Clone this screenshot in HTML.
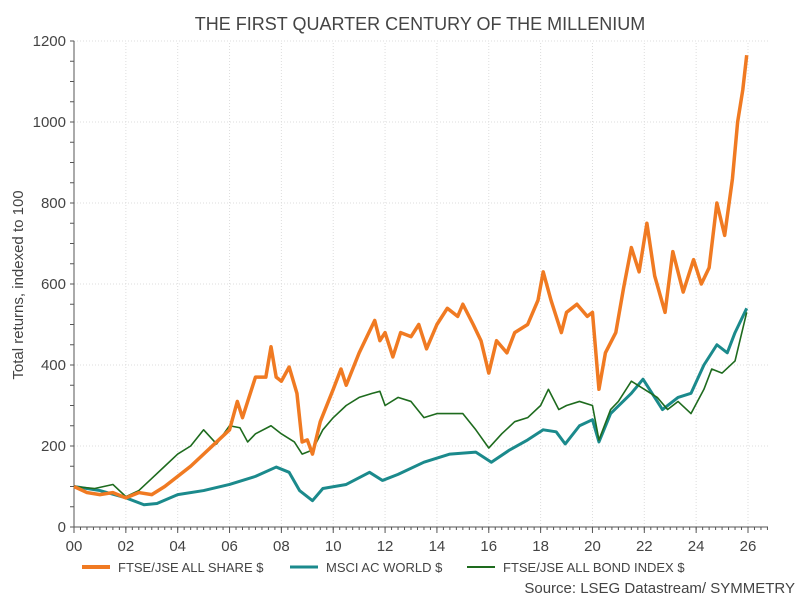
<!DOCTYPE html>
<html><head><meta charset="utf-8"><style>
body{margin:0;background:#fff;font-family:"Liberation Sans",sans-serif}
svg text{font-family:"Liberation Sans",sans-serif;fill:#444}
</style></head><body>
<svg width="800" height="600" id="chart">
<text x="420" y="30" text-anchor="middle" font-size="18">THE FIRST QUARTER CENTURY OF THE MILLENIUM</text>
<text transform="translate(23,285) rotate(-90)" text-anchor="middle" font-size="15">Total returns, indexed to 100</text>
<g id="grid"></g><g id="axes"></g><g id="series"></g>
<g>
<line x1="82" y1="567" x2="110" y2="567" stroke="#f07a22" stroke-width="4"/>
<text x="118" y="572" font-size="13">FTSE/JSE ALL SHARE $</text>
<line x1="290" y1="567" x2="318" y2="567" stroke="#1b8a8c" stroke-width="3"/>
<text x="326" y="572" font-size="13">MSCI AC WORLD $</text>
<line x1="467" y1="567" x2="495" y2="567" stroke="#1e6b1e" stroke-width="2"/>
<text x="503" y="572" font-size="13">FTSE/JSE ALL BOND INDEX $</text>
</g>
<text x="795" y="593" text-anchor="end" font-size="15">Source: LSEG Datastream/ SYMMETRY</text>
</svg>
<script>
const xTicks=[0,2,4,6,8,10,12,14,16,18,20,22,24,26];
const yTicks=[0,200,400,600,800,1000,1200];
const shareT=[2000,2000.5,2001,2001.5,2002,2002.5,2003,2003.5,2004,2004.5,2005,2005.5,2006,2006.3,2006.5,2007,2007.4,2007.6,2007.8,2008,2008.3,2008.6,2008.8,2009,2009.2,2009.5,2010,2010.3,2010.5,2011,2011.3,2011.6,2011.8,2012,2012.3,2012.6,2013,2013.3,2013.6,2014,2014.4,2014.8,2015,2015.4,2015.7,2016,2016.3,2016.7,2017,2017.5,2017.9,2018.1,2018.4,2018.8,2019,2019.4,2019.8,2020,2020.25,2020.5,2020.9,2021.2,2021.5,2021.8,2022.1,2022.4,2022.8,2023.1,2023.5,2023.9,2024.2,2024.5,2024.8,2025.1,2025.4,2025.6,2025.8,2025.95];
const shareV=[100,85,80,85,72,85,80,100,125,150,180,210,240,310,270,370,370,445,370,360,395,330,210,215,180,260,340,390,350,430,470,510,460,480,420,480,470,500,440,500,540,520,550,500,460,380,460,430,480,500,560,630,560,480,530,550,520,530,340,430,480,590,690,630,750,620,530,680,580,660,600,640,800,720,860,1000,1080,1165];
const msciT=[2000,2001,2002,2002.7,2003.2,2004,2005,2006,2007,2007.8,2008.3,2008.7,2009.2,2009.6,2010.5,2011.4,2011.9,2012.5,2013.5,2014.5,2015.5,2016.1,2016.8,2017.5,2018.1,2018.6,2018.95,2019.5,2020,2020.25,2020.7,2021.5,2021.95,2022.7,2023.3,2023.8,2024.3,2024.8,2025.2,2025.5,2025.95];
const msciV=[100,90,72,55,58,80,90,105,125,148,135,90,65,95,105,135,115,130,160,180,185,160,190,215,240,235,205,250,265,210,280,330,365,290,320,330,400,450,430,480,540];
const bondT=[2000,2000.8,2001.5,2002,2002.5,2003,2003.5,2004,2004.5,2005,2005.5,2006,2006.4,2006.7,2007,2007.6,2008,2008.5,2008.8,2009.2,2009.6,2010,2010.5,2011,2011.5,2011.8,2012,2012.5,2013,2013.5,2014,2014.5,2015,2015.5,2016,2016.5,2017,2017.5,2018,2018.3,2018.7,2019,2019.5,2020,2020.25,2020.7,2021,2021.5,2022,2022.5,2022.9,2023.3,2023.8,2024.3,2024.6,2025,2025.5,2025.95];
const bondV=[100,95,105,75,90,120,150,180,200,240,205,250,245,210,230,250,230,210,180,190,240,270,300,320,330,335,300,320,310,270,280,280,280,240,195,230,260,270,300,340,290,300,310,300,215,290,310,360,340,320,290,310,280,340,390,380,410,530];
const X0=74,X1=748,Y0=527,Y1=41;
const xs=y=>X0+(y-2000)/26*(X1-X0);
const ys=v=>Y0-v/1200*(Y0-Y1);
const NS="http://www.w3.org/2000/svg";
function mk(tag,attrs,parent){const e=document.createElementNS(NS,tag);for(const k in attrs)e.setAttribute(k,attrs[k]);parent.appendChild(e);return e;}
const grid=document.getElementById('grid'),axes=document.getElementById('axes'),ser=document.getElementById('series');
yTicks.forEach(v=>{
 if(v>0){const g=mk('line',{x1:X0,x2:768,y1:ys(v),y2:ys(v),stroke:'#ddd','stroke-dasharray':'1,2'},grid);
 
 }
 const t=mk('text',{x:X0-8,y:ys(v)+5,'text-anchor':'end','font-size':'15'},axes);t.textContent=v;
 
 
});
for(let v=0;v<=1200;v+=50){mk('line',{x1:X0-4,x2:X0,y1:ys(v),y2:ys(v),stroke:'#555'},axes);}
xTicks.forEach(y=>{
 if(y>0){const g=mk('line',{x1:xs(2000+y),x2:xs(2000+y),y1:Y0,y2:Y1,stroke:'#ddd','stroke-dasharray':'1,2'},grid);
 
 }
 mk('line',{x1:xs(2000+y),x2:xs(2000+y),y1:Y0,y2:Y0+6,stroke:'#555'},axes);
 const t=mk('text',{x:xs(2000+y),y:Y0+24,'text-anchor':'middle','font-size':'15'},axes);t.textContent=String(y).padStart(2,'0');
 
 
});
for(let q=0;q<=107;q++){const x=X0+q*(X1-X0)/104;if(x<=768)mk('line',{x1:x,x2:x,y1:Y0,y2:Y0+3,stroke:'#555'},axes);}
const ax=mk('line',{x1:X0,x2:768,y1:Y0,y2:Y0,stroke:'#555'},axes);


const ay=mk('line',{x1:X0,x2:X0,y1:Y0,y2:Y1,stroke:'#555'},axes);


function line(T,V,color,w,name){
 const p=mk('polyline',{points:T.map((t,i)=>xs(t)+','+ys(V[i])).join(' '),fill:'none',stroke:color,'stroke-width':w,'stroke-linejoin':'round'},ser);
 
 
}
line(msciT,msciV,'#1b8a8c',3,'msci-line');
line(bondT,bondV,'#1e6b1e',1.6,'bond-line');
line(shareT,shareV,'#f07a22',3.5,'share-line');
</script>
</body></html>
